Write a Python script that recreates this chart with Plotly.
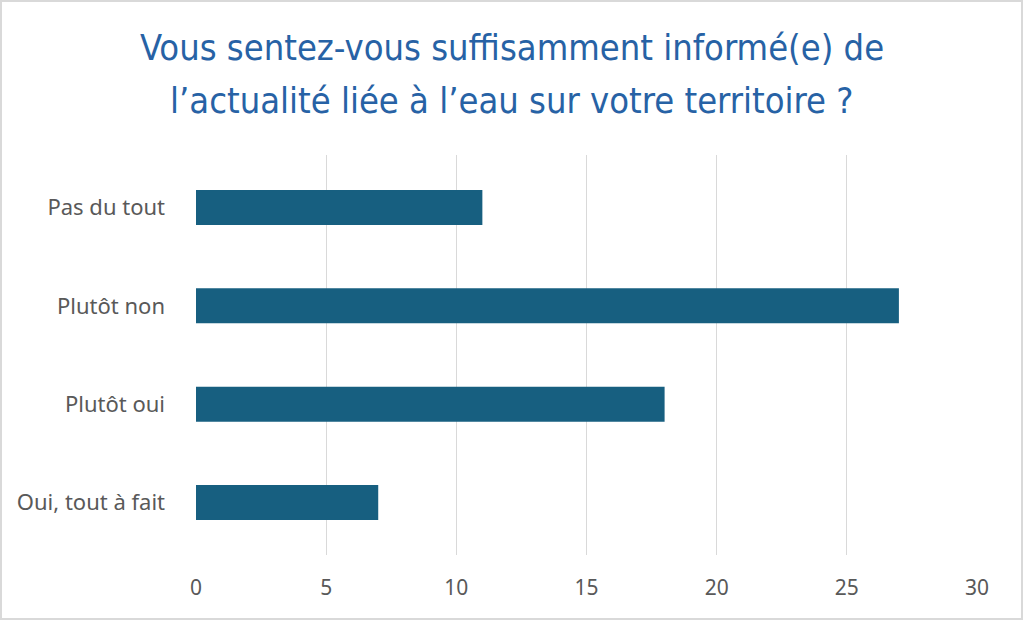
import plotly.graph_objects as go

categories = ["Pas du tout", "Plutôt non", "Plutôt oui", "Oui, tout à fait"]
values = [11, 27, 18, 7]
x_ticks = [0, 5, 10, 15, 20, 25, 30]
title_lines = ["Vous sentez-vous suffisamment informé(e) de",
               "l’actualité liée à l’eau sur votre territoire ?"]

W, H = 1024, 621
L, R, T, B = 196, 977, 155, 555
pw, ph = R - L, B - T

fig = go.Figure(go.Bar(
    x=values, y=categories, orientation="h",
    marker=dict(color="#175F80", line=dict(width=0)),
    width=0.356,
))

fig.update_layout(
    width=W, height=H,
    margin=dict(l=L, r=W - R, t=T, b=H - B, pad=0),
    paper_bgcolor="white", plot_bgcolor="white",
    showlegend=False,
    font=dict(family="Noto Sans", color="#595959", size=20),
    xaxis=dict(range=[0, 30], tickvals=x_ticks, showgrid=True,
               gridcolor="#D9D9D9", gridwidth=1, zeroline=False,
               showline=False, ticks="", ticklabelstandoff=18,
               tickfont=dict(size=21, color="#595959")),
    yaxis=dict(categoryorder="array", categoryarray=categories[::-1],
               range=[-0.535, 3.535], showgrid=False, zeroline=False,
               showline=False, ticks="", ticklabelstandoff=30,
               tickfont=dict(size=22, color="#595959")),
)

for i, line in enumerate(title_lines):
    fig.add_annotation(
        text=line, xref="paper", yref="paper",
        x=(512 - L) / pw, y=(B - (48 + 52 * i)) / ph,
        xanchor="center", yanchor="middle", showarrow=False,
        font=dict(family="Liberation Sans Narrow, DejaVu Sans Condensed, Roboto",
                  size=36, color="#2762A5"),
    )

fig.add_shape(type="rect", xref="paper", yref="paper",
              x0=(1 - L) / pw, x1=(1022 - L) / pw,
              y0=(B - 619) / ph, y1=(B - 1) / ph,
              line=dict(color="#D9D9D9", width=2), fillcolor="rgba(0,0,0,0)",
              layer="below")

fig.write_html("out.html", config={"displayModeBar": False},
               post_script="document.body.style.margin='0';document.body.style.overflow='hidden';")
